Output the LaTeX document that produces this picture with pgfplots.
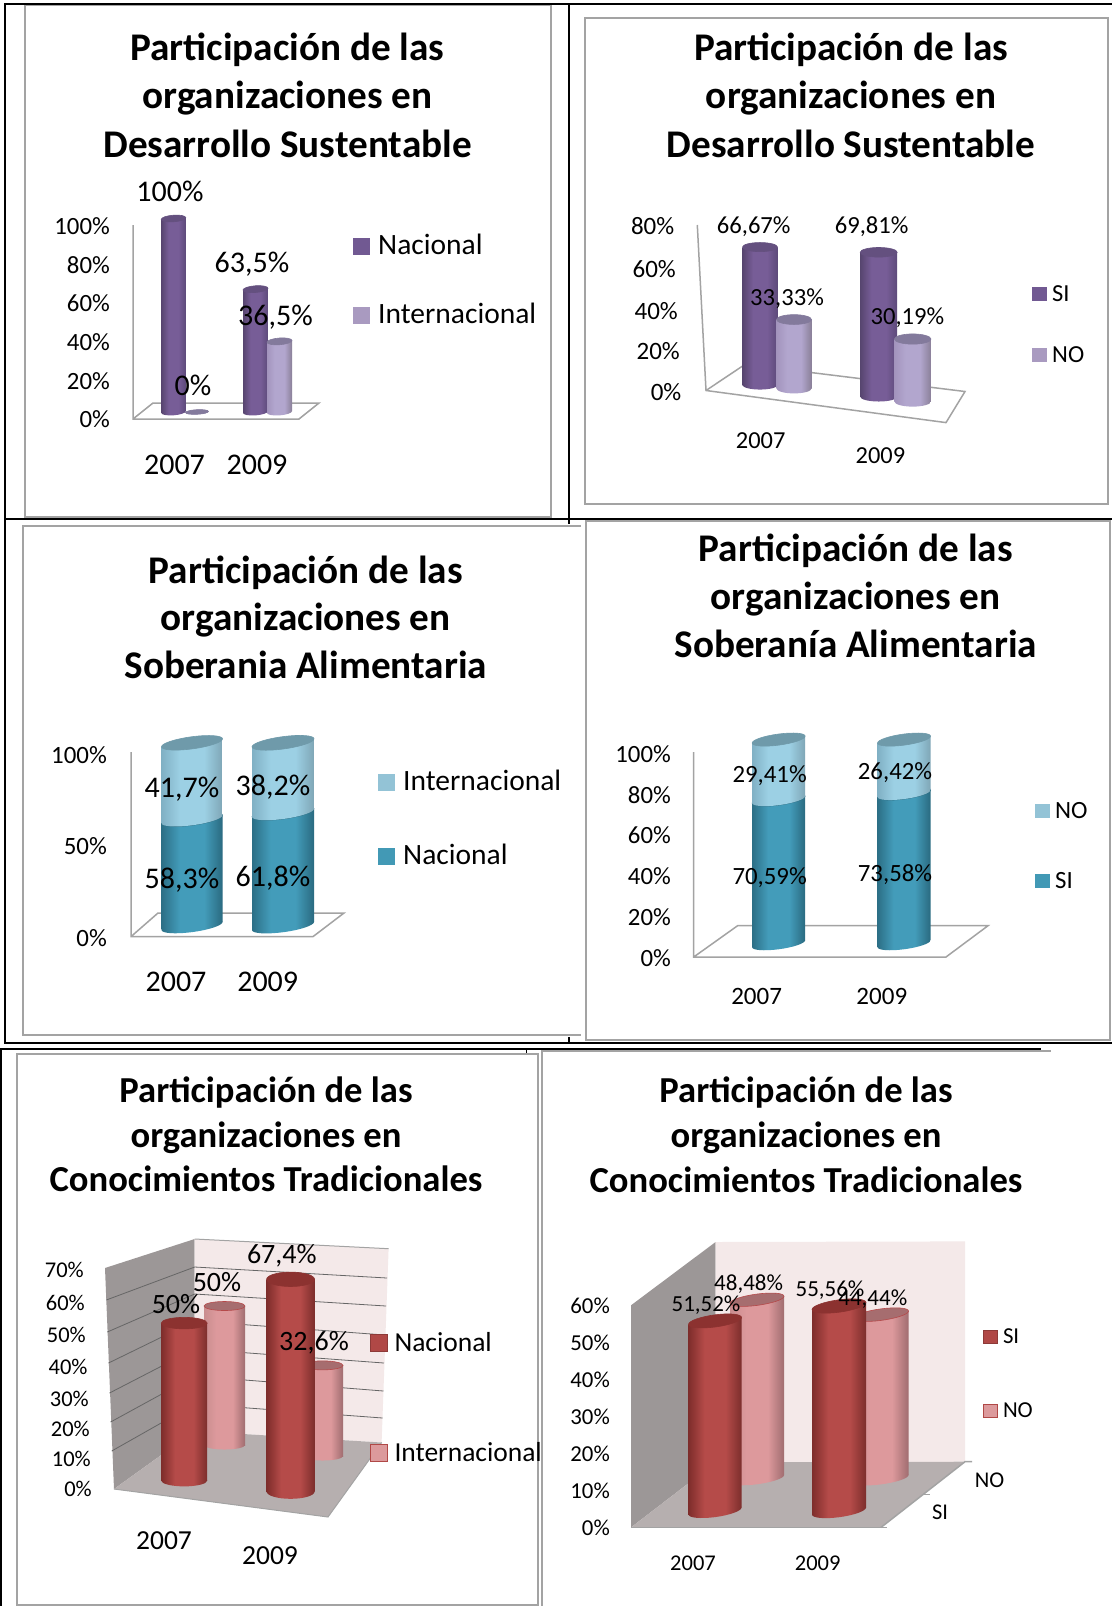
\documentclass[border=0pt]{standalone}
\usepackage{fontspec}
\setmainfont{Carlito}
\usepackage{pgfplots}
\pgfplotsset{compat=1.18}
\newcommand\family[6]{%
  \definecolor{#1L}{HTML}{#2}\definecolor{#1M}{HTML}{#3}\definecolor{#1R}{HTML}{#4}%
  \definecolor{#1C}{HTML}{#5}\definecolor{#1E}{HTML}{#6}%
  \pgfdeclarehorizontalshading{cyl#1}{100bp}{color(0bp)=(#1L); color(25bp)=(#1L); color(40bp)=(#1M); color(60bp)=(#1M); color(75bp)=(#1R); color(100bp)=(#1R)}%
  \pgfdeclareplotmark{base#1}{\pgfpathellipse{\pgfpointorigin}{\pgfqpoint{\pgfplotmarksize}{0pt}}{\pgfqpoint{0pt}{\pgfplotmarksize}}\pgftransformreset\pgfshadepath{cyl#1}{0}\pgfusepath{discard}}%
}
\family{purple}{57456F}{775D97}{5D4A7A}{64507F}{64507F}
\family{lilac}{A394BD}{B2A6CE}{8A8098}{837A9C}{837A9C}
\family{teal}{2C6F86}{439CBA}{2A6A80}{2F7187}{2F7187}
\family{sky}{80B0C4}{9CD0E4}{7FA6B6}{6F9AAA}{6F9AAA}
\family{red}{7E2D2B}{B54B49}{7C2E2C}{8C3230}{8C3230}
\family{pink}{C98D8F}{DD999C}{A06D70}{A66D6F}{B5494A}
\definecolor{frame}{HTML}{A3A3A3}
\definecolor{lpurple}{HTML}{715992}\definecolor{llilac}{HTML}{A99AC0}
\definecolor{lteal}{HTML}{4299B5}\definecolor{lsky}{HTML}{93C3D6}
\definecolor{lred}{HTML}{B04846}\definecolor{lpink}{HTML}{DC9A9C}
\definecolor{backwall}{HTML}{F4E9E9}\definecolor{sidewall}{HTML}{9C9797}\definecolor{floorc}{HTML}{B6AFAF}
% x, value, width, lift, family, (unused), ratio, slope
\newcommand\cyl[8]{%
  \addplot[forget plot,only marks,mark=base#5,mark size=#3/2*1pt,yshift={(#4-#8*#1)*1pt},yslant=#8,mark options={yscale=#7}] coordinates {(#1,0)};
  \addplot[forget plot,ybar,bar width=#3pt,bar shift=0pt,draw=none,shade,shading=cyl#5,yshift={(#4-#8*#1)*1pt},yslant=#8] coordinates {(#1,#2)};
  \addplot[forget plot,only marks,mark=*,mark size=#3/2*1pt,yshift={(#4-#8*#1)*1pt},yslant=#8,mark options={yscale=#7,fill=#5C,draw=#5E,line width=.6pt}] coordinates {(#1,#2)};
}
\pgfplotsset{
  panel/.style={disabledatascaling,clip mode=individual,scale only axis,clip=false,axis x line*=bottom,axis y line*=left,axis line style={draw=none},
    major tick length=0pt,ymin=0,anchor=south west},
  backpanel/.style={disabledatascaling,clip mode=individual,scale only axis,clip=false,hide axis,ymin=0,anchor=south west},
  ylab/.style 2 args={yticklabel style={anchor=base east,inner sep=0pt,font=\fontsize{#1}{#1}\selectfont,xshift=#2pt,yshift={-0.32*#1*1pt}}},
  xlab/.style 2 args={xticklabel style={anchor=base,inner sep=0pt,font=\fontsize{#1}{#1}\selectfont,yshift=-#2pt}},
  leg/.style n args={6}{legend style={at={(axis cs:#1,#2)},anchor=north west,draw=none,fill=none,inner sep=0pt,
      row sep={#3pt,between origins},column sep=#5pt,nodes={inner sep=0pt,font=\fontsize{#6}{#6}\selectfont,anchor=base west}},
    legend cell align=left,legend image code/.code={\path[##1] (0pt,0pt) rectangle (#4pt,#4pt);}},
}
\newcommand\ttl[5]{\node[anchor=base,font=\bfseries\fontsize{#1}{#1}\selectfont] at (#2,#3) {#4};}
\newcommand\lab[4]{\node[anchor=base,inner sep=0pt,font=\fontsize{#1}{#1}\selectfont] at (#2,#3) {#4};}
\begin{document}
\begin{tikzpicture}
\begin{scope}[x=1pt,y=-1pt]
\path[use as bounding box,fill=white] (0,0) rectangle (1112,1606);
% frames
\draw[frame,line width=2pt] (25,5) rectangle (551,517);
\draw[frame,line width=2pt] (585,17.5) rectangle (1107.5,504);
\draw[frame,line width=2pt] (581,526) -- (22.6,526) -- (22.6,1035) -- (581,1035);
\draw[frame,line width=2pt] (585.5,521) rectangle (1110,1040);
\draw[frame,line width=2pt] (17,1054.4) rectangle (538.4,1605);
\draw[frame,line width=2pt] (542,1606) -- (542,1050.5) -- (1051,1050.5);
\draw[black,line width=2pt] (5,518.5) -- (5,4) -- (1112,4);
\draw[black,line width=2pt] (5,518.5) -- (1112,518.5);
\draw[black,line width=2pt] (568.5,4) -- (568.5,524);
\draw[black,line width=2pt] (5,518.5) -- (5,1042.5) -- (1112,1042.5);
\draw[black,line width=2pt] (569,1037) -- (569,1042.5);
\draw[black,line width=2pt] (1,1606) -- (1,1049) -- (1041,1049);
\draw[black,line width=1pt] (526,1049) -- (526,1053);
% panel 1 floor
\draw[frame,line width=1.5pt] (133,225) -- (133,419) -- (299,419) -- (319,403) -- (153,403) -- (133,419);
% panel 2 floor
\draw[frame,line width=1.5pt] (697.3,225) -- (706,390.5) -- (946,422.6) -- (965,391.5) -- (745,364.4) -- (706,390.5);
% panel 3 floor
\draw[frame,line width=1.5pt] (131,752) -- (131,936.6) -- (313,936.6) -- (344,913) -- (158,913) -- (131,936.6);
% panel 4 floor
\draw[frame,line width=1.5pt] (693.7,752) -- (693.7,957) -- (946,957) -- (988,925.7) -- (737.6,925.7) -- (693.7,957);
% panel 5 walls
\fill[fill=sidewall] (105,1268) -- (194.7,1239) -- (194.7,1431) -- (114,1489) -- cycle;
\fill[fill=backwall] (194.7,1239) -- (388.6,1248.7) -- (381.6,1442.5) -- (194.7,1431) -- cycle;
\fill[fill=floorc] (114,1489) -- (194.7,1431) -- (381.6,1442.5) -- (328,1517) -- cycle;
\draw[frame,line width=1pt] (114,1489) -- (328,1517) -- (381.6,1442.5);
\draw[frame,line width=1pt] (194.7,1239) -- (388.6,1248.7);
\foreach \ya/\yb/\xb/\yc/\xc in {1267/1278/387/1300/106.3,1294/1306/386/1332/107.3,1321/1335/385/1363/108.5,1349/1363/384/1393/109.5,1376/1391/383.5/1422/110.6,1404/1418/382.6/1451/111.7}
  {\draw[black!60,line width=.8pt] (\xc,\yc) -- (194.7,\ya) -- (\xb,\yb);}
% panel 6 walls
\fill[fill=sidewall] (631,1305.3) -- (715.6,1242) -- (715.6,1462.4) -- (631,1527.4) -- cycle;
\fill[fill=backwall] (715.6,1242) -- (965,1241.4) -- (965,1461.7) -- (715.6,1462.4) -- cycle;
\fill[fill=floorc] (631,1527.4) -- (715.6,1462.4) -- (965,1461.7) -- (881,1527.4) -- cycle;
\draw[frame,line width=1.5pt] (631,1527.4) -- (887,1527.4);
\draw[frame,line width=1.5pt] (881,1527.4) -- (965,1461.7) -- (972,1461.7);
\draw[frame,line width=1pt] (923,1494.5) -- (930,1494.5);
\end{scope}

% Panel 1
\begin{axis}[panel,at={(133pt,-420pt)},width=166pt,height=193.5pt,xmin=133,xmax=299,ymax=100,
  ytick={0,20,40,60,80,100},yticklabels={0\%,20\%,40\%,60\%,80\%,100\%},ylab={24.8}{-23},
  xtick={174.5,257},xticklabels={2007,2009},xlab={30}{54},leg={353}{96.1}{69}{17}{8}{29.5}]
\cyl{173.5}{100}{24.5}{8}{purple}{0}{.27}{.07}
\cyl{197}{0}{23}{8}{lilac}{0}{.2}{.05}
\cyl{255.5}{63.5}{25}{8}{purple}{0}{.27}{.07}
\cyl{279.5}{36.5}{25}{8}{lilac}{0}{.27}{.07}
\addlegendimage{fill=lpurple,draw=none}\addlegendentry{Nacional}
\addlegendimage{fill=llilac,draw=none}\addlegendentry{Internacional}
\end{axis}

% Panel 2
\begin{axis}[panel,at={(697.3pt,-392pt)},width=248pt,height=165.5pt,xmin=697.3,xmax=945.3,ymax=80,
  ytick={0,20,40,60,80},yticklabels={0\%\kern-7.1pt,\raisebox{-1pt}{20\%}\kern-5.6pt,\raisebox{-2pt}{40\%}\kern-3.6pt,\raisebox{-2pt}{60\%}\kern-1.6pt,80\%},ylab={25}{-22.9},
  xtick={760.7,880.4},xticklabels={2007,\raisebox{-15pt}{2009}},xlab={24.4}{56},leg={1032}{51.7}{61}{14.5}{5.5}{24.5}]
\cyl{760}{66.67}{35}{7}{purple}{0}{.26}{0}
\cyl{794}{33.33}{35}{3.5}{lilac}{0}{.28}{0}
\cyl{878.7}{69.81}{37}{-4.7}{purple}{0}{.26}{0}
\cyl{912.7}{30.19}{36.5}{-9.5}{lilac}{0}{.28}{0}
\addlegendimage{fill=lpurple,draw=none}\addlegendentry{SI}
\addlegendimage{fill=llilac,draw=none}\addlegendentry{NO}
\end{axis}

% Panel 3
\begin{axis}[panel,at={(131pt,-938.6pt)},width=182pt,height=183.2pt,xmin=131,xmax=313,ymax=100,
  ytick={0,50,100},yticklabels={0\%,50\%,100\%},ylab={24.9}{-24},
  xtick={176,267.7},xticklabels={2007,2009},xlab={30}{53},leg={378}{92}{74}{17}{8}{29.5}]
\cyl{192}{58.3}{61}{12.6}{teal}{0}{.2}{.13}
\cyl{192}{41.7}{61}{119.4}{sky}{0}{.2}{.13}
\cyl{283}{61.8}{62}{12.6}{teal}{0}{.2}{.13}
\cyl{283}{38.2}{62}{125.8}{sky}{0}{.2}{.13}
\addlegendimage{fill=lsky,draw=none}\addlegendentry{Internacional}
\addlegendimage{fill=lteal,draw=none}\addlegendentry{Nacional}
\end{axis}

% Panel 4
\begin{axis}[panel,at={(693.7pt,-958.5pt)},width=252pt,height=204.1pt,xmin=693.7,xmax=945.7,ymax=100,
  ytick={0,20,40,60,80,100},yticklabels={0\%,20\%,40\%,60\%,80\%,100\%},ylab={24.8}{-22.7},
  xtick={756.6,881.8},xticklabels={2007,2009},xlab={25}{45.5},leg={1035}{76.7}{70}{14.4}{5.6}{24.8}]
\cyl{778.6}{70.59}{53}{14.8}{teal}{0}{.21}{.13}
\cyl{778.6}{29.41}{53}{158.9}{sky}{0}{.21}{.13}
\cyl{904}{73.58}{53}{14.8}{teal}{0}{.21}{.13}
\cyl{904}{26.42}{53}{165}{sky}{0}{.21}{.13}
\addlegendimage{fill=lsky,draw=none}\addlegendentry{NO}
\addlegendimage{fill=lteal,draw=none}\addlegendentry{SI}
\end{axis}

% Panel 5 back series
\begin{axis}[backpanel,at={(114pt,-1489.5pt)},width=214pt,height=194.6pt,xmin=114,xmax=328,ymax=70]
\cyl{224.5}{50}{41}{44.5}{pink}{0}{.22}{0}
\cyl{322.5}{32.6}{41}{33.5}{pink}{0}{.22}{0}
\end{axis}
% Panel 5 front series
\begin{axis}[panel,at={(114pt,-1489.5pt)},width=214pt,height=220.5pt,xmin=114,xmax=328,ymax=70,
  ytick={0,10,20,30,40,50,60,70},yticklabels={0\%\kern-8pt,\raisebox{-1pt}{10\%}\kern-7pt,\raisebox{-3pt}{20\%}\kern-6pt,\raisebox{-4pt}{30\%}\kern-5pt,\raisebox{-4pt}{40\%}\kern-3.7pt,\raisebox{-3pt}{50\%}\kern-2pt,\raisebox{-3pt}{60\%}\kern-1pt,\raisebox{-1pt}{70\%}},ylab={22.5}{-30},
  xtick={164,270},xticklabels={2007,\raisebox{-15pt}{2009}},xlab={27.5}{60},leg={370}{50}{110}{17}{6.5}{27.5}]
\cyl{184.2}{50}{46}{8.9}{red}{0}{.25}{0}
\cyl{290.6}{67.4}{48}{-2.1}{red}{0}{.3}{0}
\addlegendimage{fill=lred,draw=lred!80!black,line width=.8pt}\addlegendentry{Nacional}
\addlegendimage{fill=lpink,draw=lred,line width=.8pt}\addlegendentry{Internacional}
\end{axis}

% Panel 6
\begin{axis}[panel,at={(631pt,-1528pt)},width=250pt,height=221.4pt,xmin=631,xmax=881,ymax=60,
  ytick={0,10,20,30,40,50,60},yticklabels={0\%,10\%,20\%,30\%,40\%,50\%,60\%},ylab={22.8}{-21},
  xtick={693,817.7},xticklabels={2007,2009},xlab={22.5}{42},leg={983}{54}{74}{13.6}{5.4}{22.8}]
\cyl{757}{48.48}{54}{49.4}{pink}{0}{.21}{.13}
\cyl{881}{44.44}{55}{49.4}{pink}{0}{.21}{.13}
\cyl{715}{51.52}{53}{17}{red}{0}{.23}{.13}
\cyl{839}{55.56}{54}{17}{red}{0}{.23}{.13}
\addlegendimage{fill=lred,draw=lred!80!black,line width=.8pt}\addlegendentry{SI}
\addlegendimage{fill=lpink,draw=lred,line width=.8pt}\addlegendentry{NO}
\end{axis}

\begin{scope}[x=1pt,y=-1pt]
\ttl{39.2}{287.5}{60.5}{Participación de las}{}
\ttl{39.2}{287.5}{108.5}{organizaciones en}{}
\ttl{39.2}{287.5}{157}{Desarrollo Sustentable}{}
\ttl{39.2}{851}{60.5}{Participación de las}{}
\ttl{39.2}{851}{108.5}{organizaciones en}{}
\ttl{39.2}{851}{157}{Desarrollo Sustentable}{}
\ttl{39.2}{305.7}{583}{Participación de las}{}
\ttl{39.2}{305.7}{630.5}{organizaciones en}{}
\ttl{39.2}{305.7}{678.5}{Soberania Alimentaria}{}
\ttl{39.2}{855.7}{561.5}{Participación de las}{}
\ttl{39.2}{855.7}{609.5}{organizaciones en}{}
\ttl{39.2}{855.7}{657}{Soberanía Alimentaria}{}
\ttl{36.6}{266}{1102.5}{Participación de las}{}
\ttl{36.6}{266}{1147}{organizaciones en}{}
\ttl{36.6}{266}{1191.5}{Conocimientos Tradicionales}{}
\ttl{36.6}{806}{1102.5}{Participación de las}{}
\ttl{36.6}{806}{1147}{organizaciones en}{}
\ttl{36.6}{806}{1192}{Conocimientos Tradicionales}{}
% data labels
\lab{30}{170}{201.5}{100\%}
\lab{30}{193}{395.5}{0\%}
\lab{30}{252}{272.5}{63,5\%}
\lab{30}{275.5}{325}{36,5\%}
\lab{24.6}{753.7}{233}{66,67\%}
\lab{24.6}{871.6}{233}{69,81\%}
\lab{24.6}{787}{305}{33,33\%}
\lab{24.6}{907.4}{324.5}{30,19\%}
\lab{30}{182}{797}{41,7\%}
\lab{30}{273}{795}{38,2\%}
\lab{30}{182}{888.6}{58,3\%}
\lab{30}{273}{886}{61,8\%}
\lab{24.8}{769.6}{782}{29,41\%}
\lab{24.8}{895}{779.4}{26,42\%}
\lab{24.8}{769.6}{884}{70,59\%}
\lab{24.8}{895}{881}{73,58\%}
\lab{28}{281.8}{1263.5}{67,4\%}
\lab{28}{217}{1291.5}{50\%}
\lab{28}{176}{1313}{50\%}
\lab{28}{314}{1350}{32,6\%}
\lab{23}{706}{1311.5}{51,52\%}
\lab{23}{748.6}{1290}{48,48\%}
\lab{23}{830}{1296}{55,56\%}
\lab{23}{872.8}{1305.3}{44,44\%}
\lab{22.5}{989.5}{1487}{NO}
\lab{22.5}{940}{1519.4}{SI}
\end{scope}
\end{tikzpicture}
\end{document}
